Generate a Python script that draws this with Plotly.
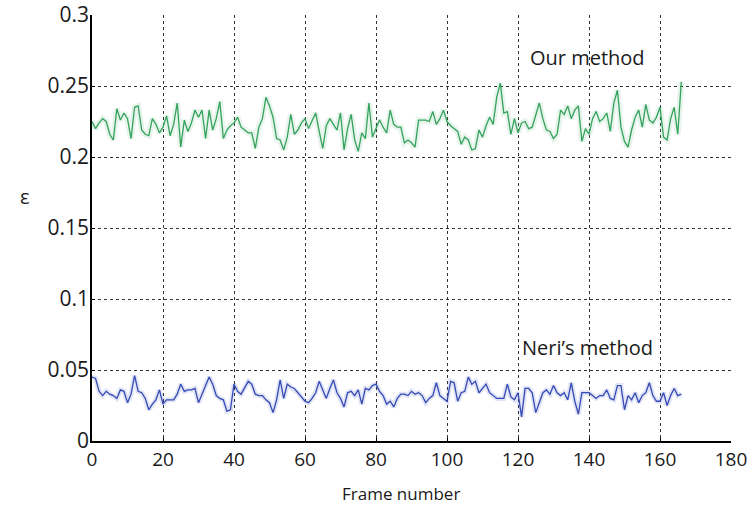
import plotly.graph_objects as go

frames = list(range(167))

our_method = [
    0.225, 0.220, 0.224, 0.227, 0.225, 0.216, 0.212, 0.234, 0.226, 0.231,
    0.227, 0.213, 0.235, 0.236, 0.219, 0.216, 0.215, 0.227, 0.223, 0.217,
    0.221, 0.229, 0.215, 0.223, 0.238, 0.207, 0.226, 0.218, 0.224, 0.233,
    0.228, 0.233, 0.213, 0.233, 0.219, 0.227, 0.239, 0.213, 0.219, 0.222,
    0.224, 0.228, 0.221, 0.219, 0.217, 0.217, 0.206, 0.221, 0.227, 0.242,
    0.236, 0.228, 0.213, 0.212, 0.205, 0.214, 0.230, 0.216, 0.219, 0.224,
    0.227, 0.220, 0.226, 0.231, 0.218, 0.206, 0.222, 0.227, 0.223, 0.219,
    0.231, 0.205, 0.220, 0.230, 0.212, 0.204, 0.217, 0.213, 0.238, 0.214,
    0.220, 0.226, 0.221, 0.217, 0.233, 0.223, 0.221, 0.221, 0.210, 0.212,
    0.210, 0.207, 0.226, 0.226, 0.226, 0.225, 0.232, 0.223, 0.227, 0.233,
    0.225, 0.222, 0.220, 0.218, 0.209, 0.214, 0.212, 0.205, 0.206, 0.219,
    0.214, 0.222, 0.228, 0.223, 0.242, 0.252, 0.231, 0.232, 0.216, 0.227,
    0.217, 0.224, 0.225, 0.220, 0.221, 0.229, 0.238, 0.227, 0.219, 0.218,
    0.213, 0.216, 0.233, 0.230, 0.236, 0.227, 0.233, 0.236, 0.211, 0.220,
    0.216, 0.227, 0.232, 0.225, 0.227, 0.231, 0.218, 0.238, 0.247, 0.221,
    0.211, 0.207, 0.219, 0.228, 0.233, 0.221, 0.237, 0.226, 0.224, 0.228,
    0.235, 0.214, 0.212, 0.227, 0.235, 0.216, 0.253,
]

neris_method = [
    0.045, 0.044, 0.035, 0.032, 0.035, 0.033, 0.032, 0.030, 0.036, 0.035,
    0.027, 0.033, 0.046, 0.035, 0.034, 0.030, 0.022, 0.026, 0.029, 0.036,
    0.026, 0.029, 0.029, 0.029, 0.033, 0.040, 0.035, 0.036, 0.036, 0.037,
    0.027, 0.033, 0.038, 0.045, 0.040, 0.032, 0.030, 0.029, 0.021, 0.022,
    0.040, 0.035, 0.033, 0.038, 0.042, 0.040, 0.033, 0.032, 0.032, 0.029,
    0.027, 0.020, 0.029, 0.043, 0.030, 0.040, 0.038, 0.037, 0.034, 0.031,
    0.028, 0.027, 0.030, 0.034, 0.042, 0.036, 0.030, 0.037, 0.043, 0.034,
    0.030, 0.024, 0.034, 0.035, 0.032, 0.036, 0.026, 0.037, 0.036, 0.039,
    0.040, 0.035, 0.032, 0.026, 0.028, 0.024, 0.030, 0.033, 0.033, 0.032,
    0.035, 0.033, 0.034, 0.032, 0.027, 0.030, 0.032, 0.041, 0.032, 0.030,
    0.028, 0.042, 0.041, 0.028, 0.034, 0.035, 0.045, 0.040, 0.042, 0.034,
    0.037, 0.040, 0.034, 0.032, 0.030, 0.030, 0.030, 0.040, 0.031, 0.029,
    0.034, 0.017, 0.037, 0.037, 0.034, 0.020, 0.027, 0.034, 0.036, 0.033,
    0.039, 0.034, 0.032, 0.034, 0.029, 0.041, 0.028, 0.019, 0.034, 0.034,
    0.034, 0.032, 0.030, 0.032, 0.032, 0.036, 0.030, 0.029, 0.039, 0.039,
    0.022, 0.032, 0.029, 0.034, 0.027, 0.032, 0.034, 0.041, 0.032, 0.028,
    0.028, 0.034, 0.025, 0.032, 0.037, 0.032, 0.033,
]

x_ticks = [0, 20, 40, 60, 80, 100, 120, 140, 160, 180]
y_ticks = [0, 0.05, 0.1, 0.15, 0.2, 0.25, 0.3]
y_tick_labels = ["0", "0.05", "0.1", "0.15", "0.2", "0.25", "0.3"]

FONT = "Open Sans, Lato, sans-serif"
GREEN = "rgb(52,162,92)"
BLUE = "rgb(52,74,182)"
TXT = "#1a1a1a"

fig = go.Figure()
# soft halo under each line
fig.add_trace(go.Scatter(x=frames, y=our_method, mode="lines",
                         line=dict(color="rgba(52,162,92,0.12)", width=6),
                         hoverinfo="skip", showlegend=False))
fig.add_trace(go.Scatter(x=frames, y=neris_method, mode="lines",
                         line=dict(color="rgba(52,74,182,0.15)", width=5),
                         hoverinfo="skip", showlegend=False))
fig.add_trace(go.Scatter(x=frames, y=our_method, mode="lines",
                         line=dict(color=GREEN, width=1.3),
                         name="Our method", showlegend=False))
fig.add_trace(go.Scatter(x=frames, y=neris_method, mode="lines",
                         line=dict(color=BLUE, width=1.3),
                         name="Neri’s method", showlegend=False))

axis_common = dict(
    showgrid=True, gridcolor="#333333", griddash="dot", gridwidth=1,
    showline=True, linecolor="black", linewidth=1.5,
    ticks="inside", ticklen=3, tickcolor="black",
    zeroline=False, automargin=False, ticklabeloverflow="allow",
)

fig.update_layout(
    width=748, height=507,
    margin=dict(l=92, r=17, t=15, b=66),
    paper_bgcolor="white", plot_bgcolor="white",
    font=dict(family=FONT, size=17, color=TXT),
    xaxis=dict(range=[0, 180], tickvals=x_ticks,
               ticktext=[str(v) for v in x_ticks],
               tickfont=dict(family=FONT, size=19, color=TXT),
               **axis_common),
    yaxis=dict(range=[0, 0.3], tickvals=y_ticks, ticktext=y_tick_labels,
               tickfont=dict(family=FONT, size=21, color=TXT),
               ticklabelstandoff=-3,
               **axis_common),
    annotations=[
        dict(x=139.5, y=0.270, xref="x", yref="y", text="Our method",
             showarrow=False, font=dict(family=FONT, size=20, color=TXT)),
        dict(x=139.5, y=0.066, xref="x", yref="y", text="Neri’s method",
             showarrow=False, font=dict(family=FONT, size=20, color=TXT)),
        dict(x=86.9, y=-0.124, xref="x", yref="paper", text="Frame number",
             showarrow=False, yanchor="middle",
             font=dict(family=FONT, size=17, color=TXT)),
        dict(x=-0.116, y=0.573, xref="paper", yref="paper", text="ε",
             showarrow=False, font=dict(family=FONT, size=20, color=TXT)),
    ],
)

fig.write_html("out.html", config={"displayModeBar": False},
               post_script="document.body.style.margin='0px';")
